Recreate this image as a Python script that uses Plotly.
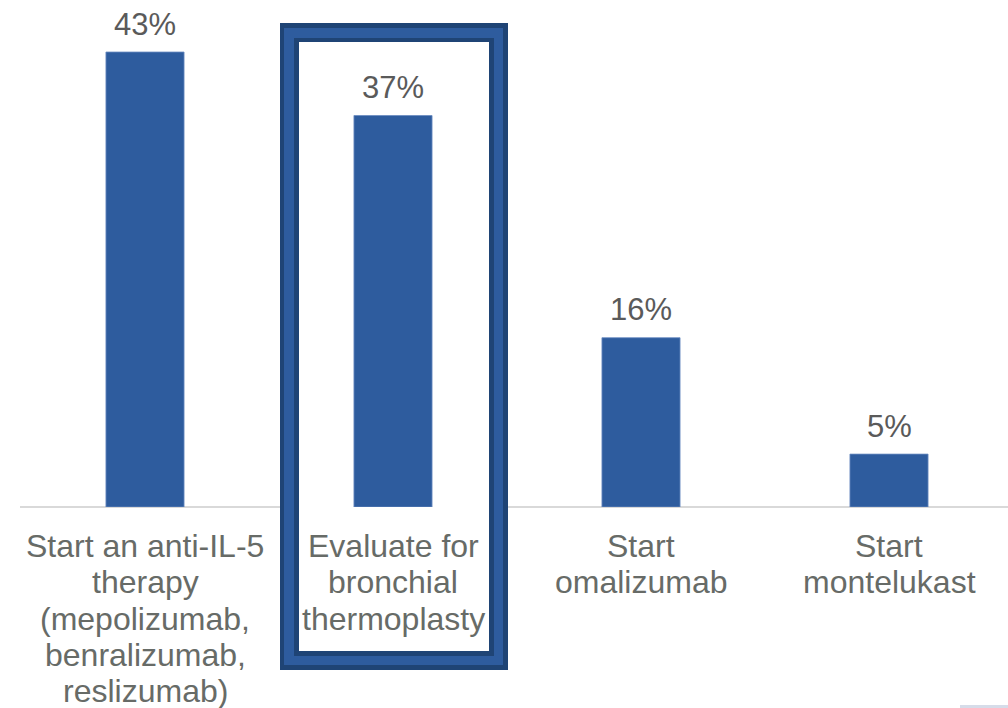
import plotly.graph_objects as go

# ---- data ----
categories = ["anti-IL-5", "thermoplasty", "omalizumab", "montelukast"]
category_lines = [
    ["Start an anti-IL-5", "therapy", "(mepolizumab,", "benralizumab,", "reslizumab)"],
    ["Evaluate for", "bronchial", "thermoplasty"],
    ["Start", "omalizumab"],
    ["Start", "montelukast"],
]
values = [43, 37, 16, 5]
value_labels = ["43%", "37%", "16%", "5%"]

# ---- style / layout constants ----
W, H = 1008, 708
ML, MR, MT, MB = 21, 0, 20, 201
PW, PH = W - ML - MR, H - MT - MB
BAR_COLOR = "#2e5c9e"
DARK = "#1f4475"
TEXT_CAT = "#676b67"
TEXT_VAL = "#5a5a5a"
FONT = "Liberation Sans, Arial, sans-serif"
PX_PER_UNIT = 10.581
CAT_SPACING = 248.0


def px_x(p):
    return (p - ML) / PW


def px_y(p):
    return (H - MB - p) / PH


fig = go.Figure()
fig.add_trace(go.Bar(
    x=categories, y=values,
    marker=dict(color=BAR_COLOR, line=dict(color="#6a8cc0", width=0.8)),
    width=0.315,
    hoverinfo="skip",
))

shapes = []
# baseline
shapes.append(dict(type="line", xref="paper", yref="paper",
                   x0=px_x(20), x1=1, y0=0, y1=0,
                   line=dict(color="#d9d9d9", width=2), layer="below"))
# highlight box (layered rectangles)
for (x0, x1, y0, y1, col) in [
    (280, 508, 23, 670, DARK),
    (284, 503, 28, 665, BAR_COLOR),
    (294, 494, 38, 656, DARK),
    (299, 489, 42, 651, "white"),
]:
    shapes.append(dict(type="rect", xref="paper", yref="paper",
                       x0=px_x(x0), x1=px_x(x1), y0=px_y(y1), y1=px_y(y0),
                       fillcolor=col, line=dict(width=0), layer="below"))
# small element bottom right
shapes.append(dict(type="rect", xref="paper", yref="paper",
                   x0=px_x(960), x1=1, y0=px_y(708), y1=px_y(705),
                   fillcolor="#d6dce9", line=dict(width=0), layer="below"))

annotations = []
for cat, v, lab in zip(categories, values, value_labels):
    annotations.append(dict(x=cat, y=v, xref="x", yref="y", text=lab,
                            showarrow=False, yanchor="middle", yshift=28,
                            font=dict(family=FONT, size=31, color=TEXT_VAL)))
LINE_GAP = 36.3
FIRST = 39
for cat, lines in zip(categories, category_lines):
    for i, ln in enumerate(lines):
        annotations.append(dict(x=cat, y=0, xref="x", yref="paper", text=ln,
                                showarrow=False, yanchor="middle",
                                yshift=-(FIRST + i * LINE_GAP),
                                font=dict(family=FONT, size=32, color=TEXT_CAT)))

fig.update_layout(
    width=W, height=H,
    margin=dict(l=ML, r=MR, t=MT, b=MB, pad=0),
    paper_bgcolor="white", plot_bgcolor="white",
    showlegend=False,
    shapes=shapes, annotations=annotations,
    xaxis=dict(type="category", range=[-0.5, -0.5 + PW / CAT_SPACING],
               showticklabels=False, showgrid=False, zeroline=False,
               showline=False, ticks=""),
    yaxis=dict(range=[0, PH / PX_PER_UNIT], visible=False,
               showgrid=False, zeroline=False),
)

fig.write_html(
    "out.html",
    config={"displayModeBar": False},
    post_script="document.body.style.margin='0';document.body.style.overflow='hidden';",
)
